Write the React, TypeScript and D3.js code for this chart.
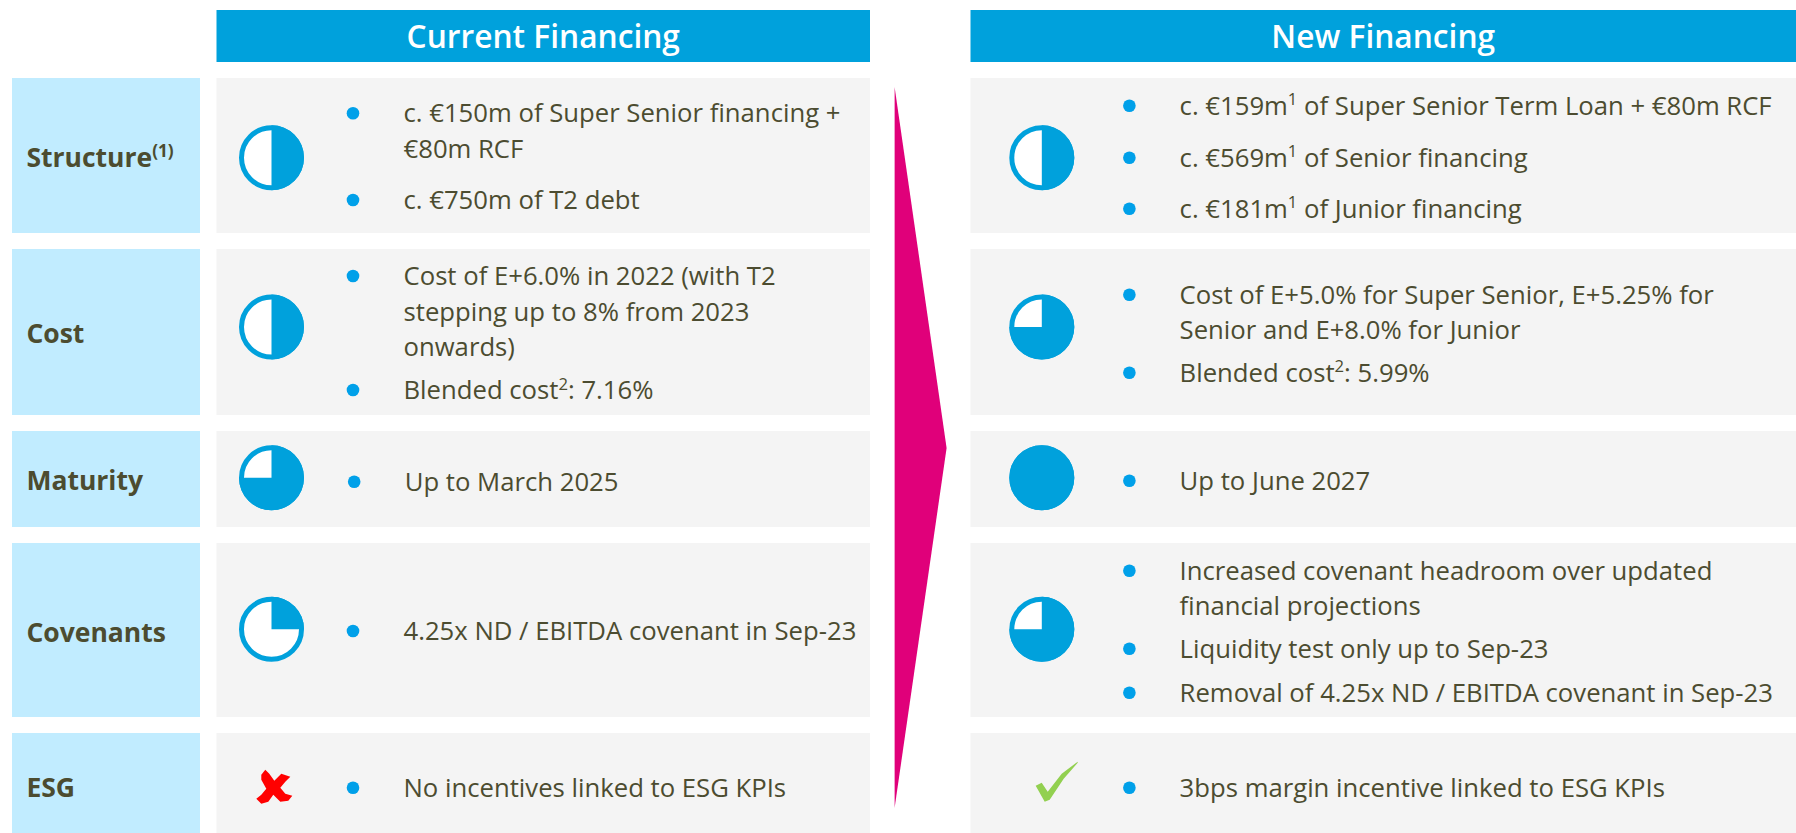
import { useEffect, useRef } from 'react';
import * as d3 from 'd3';

const WIDTH = 1796;
const HEIGHT = 833;
const FONT_FAMILY = '"Open Sans", sans-serif';

const HEADERS = ['Current Financing', 'New Financing'];
const CATEGORIES = ['Structure^(1)^', 'Cost', 'Maturity', 'Covenants', 'ESG'];

// share of each Harvey ball that is filled, null for the ESG row (icon instead)
const CURRENT_SCORES = [0.5, 0.5, 0.75, 0.25, null];
const NEW_SCORES = [0.5, 0.75, 1, 0.75, null];

// one entry per bullet, one string per line, ^x^ marks a superscript
const CURRENT_BULLETS = [
  [['c. €150m of Super Senior financing +', '€80m RCF'], ['c. €750m of T2 debt']],
  [['Cost of E+6.0% in 2022 (with T2', 'stepping up to 8% from 2023', 'onwards)'], ['Blended cost^2^: 7.16%']],
  [['Up to March 2025']],
  [['4.25x ND / EBITDA covenant in Sep-23']],
  [['No incentives linked to ESG KPIs']],
];
const NEW_BULLETS = [
  [['c. €159m^1^ of Super Senior Term Loan + €80m RCF'], ['c. €569m^1^ of Senior financing'], ['c. €181m^1^ of Junior financing']],
  [['Cost of E+5.0% for Super Senior, E+5.25% for', 'Senior and E+8.0% for Junior'], ['Blended cost^2^: 5.99%']],
  [['Up to June 2027']],
  [['Increased covenant headroom over updated', 'financial projections'], ['Liquidity test only up to Sep-23'], ['Removal of 4.25x ND / EBITDA covenant in Sep-23']],
  [['3bps margin incentive linked to ESG KPIs']],
];

// Layout ---------------------------------------------------------------------
const ROW_TOPS = [78, 249, 431, 543, 733];
const ROW_BOTTOMS = [233, 415, 527, 717, 833];
const LABEL_Y = [157, 333, 480, 632, 787];
const BALL_Y = [157.7, 327, 477.7, 629.3];

// vertical centre of every bullet's first line
const CURRENT_BULLET_Y = [[113.3, 200], [276, 390], [481.7], [631], [787.7]];
const NEW_BULLET_Y = [[105.7, 157.7, 208.7], [294.7, 372.7], [480.7], [570.7, 648.7, 692.7], [787.7]];
const LINE_STEP = 35.5;

// the Maturity row of the current column sits a little further right
const CURRENT_NUDGE = [0, 0, 1.2, 0, 0];
const NEW_NUDGE = [0, 0, 0, 0, 0];

const COLUMNS = [
  { x0: 216.5, x1: 870, ballX: 271.5, bulletX: 353, textX: 403.5, scores: CURRENT_SCORES, bullets: CURRENT_BULLETS, bulletY: CURRENT_BULLET_Y, nudge: CURRENT_NUDGE },
  { x0: 970.5, x1: 1796, ballX: 1041.8, bulletX: 1129.4, textX: 1179.6, scores: NEW_SCORES, bullets: NEW_BULLETS, bulletY: NEW_BULLET_Y, nudge: NEW_NUDGE },
];

const BLUE = '#00a1dc';
const BULLET_BLUE = '#00a0e9';
const LABEL_FILL = '#c1ecff';
const PANEL_FILL = '#f4f4f4';
const TEXT_FILL = '#4c4c30';
const ARROW_FILL = '#e0007a';

const BALL_R = 32.5;
const RING = 5;
const BODY_SIZE = 25.7;

// icon outlines, in px around the icon centre
const CROSS = [[-8, -17], [-4, -13], [1, -6], [8, -13], [17, -10], [12, -5], [7, 1], [12, 7], [19, 9], [15, 14], [7, 15], [0, 8], [-5, 15], [-12, 17], [-17, 12], [-12, 8], [-7, 2], [-12, -7], [-12, -12]];
const CHECK = [[-21, 4], [-15, 1], [-9, 10], [5, -8], [21, -20], [21, -19], [7, -3], [-7, 18], [-12, 20]];

// Write a line with ^x^ superscripts as tspans.
function writeRich(text, line, size) {
  let raise = 0;
  line.split('^').forEach((part, i) => {
    if (!part) return;
    const isSup = i % 2 === 1;
    const shift = isSup ? -size * 0.36 : 0;
    text
      .append('tspan')
      .attr('dy', shift - raise)
      .style('font-size', `${isSup ? size * 0.65 : size}px`)
      .text(part);
    raise = shift;
  });
}

export default function App() {
  const svgRef = useRef(null);

  useEffect(() => {
    const svg = d3.select(svgRef.current);
    svg.selectAll('*').remove();
    svg.style('font-family', FONT_FAMILY);

    const angle = d3.scaleLinear().domain([0, 1]).range([0, 2 * Math.PI]);
    const arc = d3.arc().innerRadius(0).outerRadius(BALL_R);
    const outline = d3.line().curve(d3.curveLinearClosed);

    // Row labels -------------------------------------------------------------
    CATEGORIES.forEach((category, r) => {
      svg.append('rect')
        .attr('x', 12).attr('y', ROW_TOPS[r])
        .attr('width', 188).attr('height', ROW_BOTTOMS[r] - ROW_TOPS[r])
        .attr('fill', LABEL_FILL);
      const label = svg.append('text')
        .attr('x', 26.4).attr('y', LABEL_Y[r] + 9.5)
        .attr('fill', TEXT_FILL)
        .style('font-weight', 700);
      writeRich(label, category, 26.5);
    });

    COLUMNS.forEach((col, c) => {
      // Header ---------------------------------------------------------------
      svg.append('rect')
        .attr('x', col.x0).attr('y', 10)
        .attr('width', col.x1 - col.x0).attr('height', 52)
        .attr('fill', BLUE);
      svg.append('text')
        .attr('x', (col.x0 + col.x1) / 2)
        .attr('y', 48)
        .attr('text-anchor', 'middle')
        .attr('fill', '#fff')
        .style('font-size', '31.7px')
        .style('font-weight', 600)
        .text(HEADERS[c]);

      CATEGORIES.forEach((_, r) => {
        svg.append('rect')
          .attr('x', col.x0).attr('y', ROW_TOPS[r])
          .attr('width', col.x1 - col.x0).attr('height', ROW_BOTTOMS[r] - ROW_TOPS[r])
          .attr('fill', PANEL_FILL);

        // Harvey ball --------------------------------------------------------
        const score = col.scores[r];
        if (score !== null) {
          const ball = svg.append('g').attr('transform', `translate(${col.ballX},${BALL_Y[r]})`);
          ball.append('circle').attr('r', BALL_R - RING / 2).attr('fill', '#fff').attr('stroke', BLUE).attr('stroke-width', RING);
          ball.append('path')
            .attr('d', arc({ startAngle: angle(0), endAngle: angle(score) }))
            .attr('fill', BLUE);
        }

        // Bullets --------------------------------------------------------------
        col.bullets[r].forEach((lines, b) => {
          const y = col.bulletY[r][b];
          svg.append('circle')
            .attr('cx', col.bulletX + col.nudge[r]).attr('cy', y).attr('r', 6.3)
            .attr('fill', BULLET_BLUE);
          lines.forEach((line, l) => {
            const text = svg.append('text')
              .attr('x', col.textX + col.nudge[r]).attr('y', y + l * LINE_STEP + 9)
              .attr('fill', TEXT_FILL);
            writeRich(text, line, BODY_SIZE);
          });
        });
      });
    });

    // ESG icons ----------------------------------------------------------------
    svg.append('path')
      .attr('transform', 'translate(273.3,786.7)')
      .attr('d', outline(CROSS))
      .attr('fill', '#ff0000');
    svg.append('path')
      .attr('transform', 'translate(1056.7,781.7)')
      .attr('d', outline(CHECK))
      .attr('fill', '#92d050');

    // Arrow between the columns -------------------------------------------------
    svg.append('path')
      .attr('d', outline([[894.6, 87], [946.6, 448], [894.6, 808]]))
      .attr('fill', ARROW_FILL);
  }, []);

  return <svg ref={svgRef} width={WIDTH} height={HEIGHT} style={{ position: 'absolute', left: 0, top: 0 }} />;
}
